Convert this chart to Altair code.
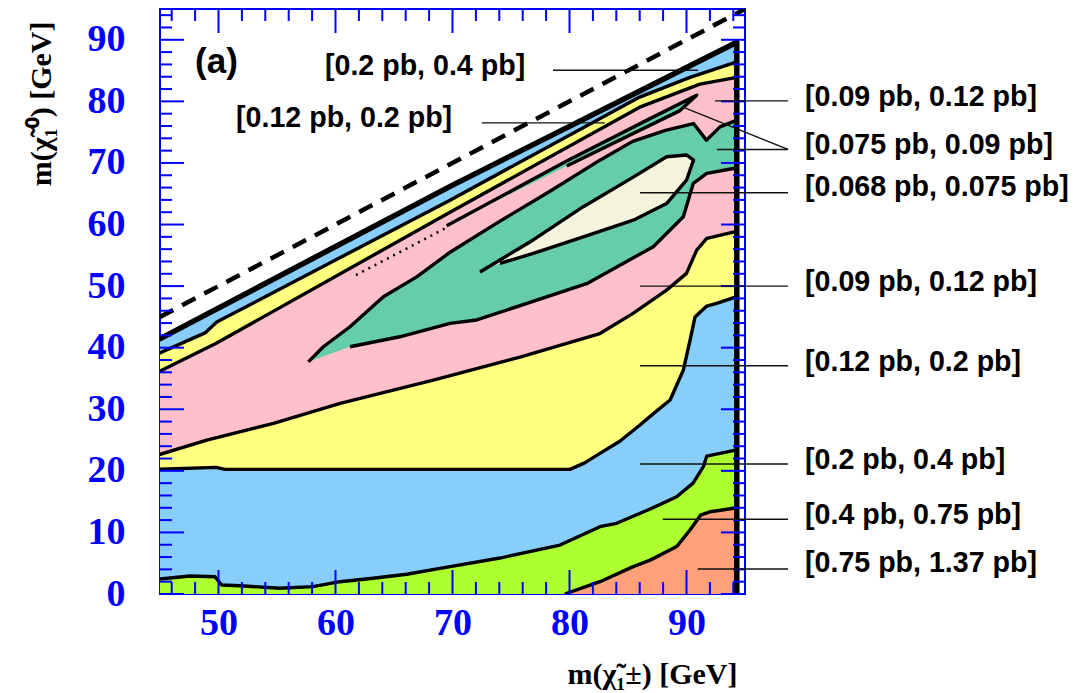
import altair as alt
import pandas as pd

# ---------------- contour boundaries (GeV) ----------------
# kinematic limit (thick black line) and right edge of the scanned region
top_x = [44.7, 69.8, 94.3]
top_y = [41.15, 66.2, 89.6]
edge_x = 94.3
# m(chi0) = m(chi+-) dashed line
diag_x = [45, 95]
diag_y = [45, 95]

# green / blue boundary (0.4 pb)
gb_x = [44.7, 47.56, 49.7, 50.27, 51.84, 55.26, 58.08, 60.38, 63.2, 66.09, 68.93,
        74.06, 79.19, 82.6, 84.03, 86.9, 89.16, 90.56, 91.44, 91.73, 94.3]
gb_y = [2.39, 2.92, 2.81, 1.46, 1.35, 0.93, 1.19, 2.0, 2.55, 3.2, 4.17,
        5.84, 7.95, 10.93, 11.48, 13.8, 15.8, 18.0, 20.67, 22.4, 23.4]

# salmon boundary (0.75 pb)
sal_x = [79.6, 82.6, 85.4, 86.9, 89.16, 90.3, 91.2, 92.05, 94.3]
sal_y = [0.0, 2.0, 4.4, 5.5, 7.7, 10.4, 12.8, 13.36, 14.0]

# blue / yellow boundary, lower (0.2 pb)
by_x = [44.7, 49.79, 50.56, 80.04, 81.3, 82.6, 84.3, 86.0, 87.3, 88.6, 89.73,
        90.3, 90.73, 91.73, 92.58, 94.3]
by_y = [20.24, 20.57, 20.24, 20.24, 21.3, 22.84, 24.8, 27.4, 29.5, 31.5, 36.36,
        41.2, 45.0, 46.75, 47.2, 48.3]

# yellow / pink boundary, lower (0.12 pb)
yp_x = [44.7, 49.0, 54.7, 60.4, 68.36, 75.77, 82.6, 85.43, 88.3, 90.0, 90.87,
        91.73, 94.0, 94.3]
yp_y = [22.5, 25.0, 27.7, 30.96, 34.74, 38.47, 42.3, 45.57, 49.35, 52.06, 55.84,
        57.74, 58.77, 58.8]

# upper bands near the kinematic limit
uby_x = [44.7, 48.85, 49.85, 69.79, 86.0, 90.3, 94.3]
uby_y = [38.9, 42.4, 44.16, 63.96, 80.7, 83.9, 86.4]
uyp_x = [44.7, 49.85, 69.79, 86.0, 91.15, 94.3]
uyp_y = [35.9, 40.75, 62.0, 79.06, 82.8, 83.9]

# teal tongue (0.09 pb)
tg_x = [57.68, 58.96, 61.24, 64.09, 66.94, 69.79, 74.06, 78.33, 82.6, 85.4, 88.2,
        90.6, 91.7, 92.86, 94.3, 94.3, 94.0, 91.73, 90.58, 89.73, 87.16, 81.47,
        72.07, 69.79, 65.5, 61.24]
tg_y = [37.7, 40.15, 43.4, 48.26, 51.5, 55.5, 60.55, 65.4, 70.45, 73.5, 75.3,
        76.4, 73.7, 75.86, 76.95, 69.1, 69.1, 68.3, 66.7, 61.25, 56.4, 50.4,
        44.5, 43.94, 41.77, 40.15]

# thin teal sliver and its dotted tail
sl_x = [69.5, 79.76, 86.88, 90.87, 89.44, 79.76]
sl_y = [59.8, 70.3, 77.2, 81.0, 78.5, 69.5]
dot_x = [61.75, 69.5]
dot_y = [51.8, 59.5]

# cream core (0.075 pb)
cr_x = [72.35, 76.9, 81.18, 85.45, 88.3, 90.0, 90.6, 90.0, 88.3, 85.45, 81.18, 76.9, 74.06]
cr_y = [52.3, 57.5, 62.9, 67.7, 71.0, 71.3, 70.45, 67.2, 63.4, 60.7, 58.0, 55.3, 53.7]

# ---------------- annotations ----------------
lab_text = ["[0.09 pb, 0.12 pb]", "[0.075 pb, 0.09 pb]", "[0.068 pb, 0.075 pb]",
            "[0.09 pb, 0.12 pb]", "[0.12 pb, 0.2 pb]", "[0.2 pb, 0.4 pb]",
            "[0.4 pb, 0.75 pb]", "[0.75 pb, 1.37 pb]"]
lab_y = [80.76, 72.89, 66.12, 50.70, 37.71, 21.75, 12.82, 4.98]
lab_x = 100.13
in_text = ["[0.2 pb, 0.4 pb]", "[0.12 pb, 0.2 pb]"]
in_x = [59.1, 51.5]
in_y = [85.71, 77.35]
panel_text = "(a)"
panel_x, panel_y = 48.0, 86.4

lead_x = [92.44, 89.7, 92.6, 86.03, 86.03, 86.03, 86.03, 87.97, 90.96, 78.59, 72.5]
lead_y = [80.08, 79.06, 72.19, 65.15, 50.0, 37.06, 21.1, 12.13, 4.06, 85.06, 76.5]
lead_x2 = [98.68, 98.68, 98.68, 98.68, 98.68, 98.68, 98.68, 98.68, 98.68, 90.98, 83.03]
lead_y2 = [80.08, 72.19, 72.19, 65.15, 50.0, 37.06, 21.1, 12.13, 4.06, 85.06, 76.5]

x_major = [50, 60, 70, 80, 90]
x_minor = [v for v in range(46, 95, 2) if v % 10]
y_major = [0, 10, 20, 30, 40, 50, 60, 70, 80, 90]
y_minor = [v for v in range(2, 95, 2) if v % 10]

# ---------------- chart ----------------
W, H = 585, 585
BLUE = "#0000ff"
LW = 3.4
xs = alt.Scale(domain=[45, 95], nice=False, zero=False)
ys = alt.Scale(domain=[0, 95], nice=False, zero=False)
xaxis = alt.Axis(values=x_major, ticks=False, tickSize=0, domain=False, grid=False,
                 labelFont="Liberation Serif", labelFontWeight="bold", labelFontSize=38,
                 labelColor=BLUE, labelPadding=10,
                 title="m(χ̃₁±) [GeV]", titleFont="Liberation Serif", titleFontWeight="bold",
                 titleFontSize=30, titleColor="black", titleAlign="right",
                 titleBaseline="alphabetic", titleX=577, titleY=89, titleAngle=0)
yaxis = alt.Axis(values=y_major, ticks=False, tickSize=0, domain=False, grid=False,
                 labelFont="Liberation Serif", labelFontWeight="bold", labelFontSize=38,
                 labelColor=BLUE, labelPadding=35,
                 title="m(χ̃₁⁰) [GeV]", titleFont="Liberation Serif", titleFontWeight="bold",
                 titleFontSize=30, titleColor="black", titleAlign="right",
                 titleBaseline="alphabetic", titleX=-110, titleY=12, titleAngle=-90)

X = alt.X("x:Q", scale=xs, axis=xaxis)
Y = alt.Y("y:Q", scale=ys, axis=yaxis)


def poly(xv, yv):
    return pd.DataFrame({"x": xv, "y": yv, "i": list(range(len(xv)))})


def region(df, color):
    return alt.Chart(df).mark_line(fill=color, stroke="black", strokeWidth=LW,
                                   strokeJoin="round", clip=True).encode(
        x=X, y=Y, order=alt.Order("i:Q"))


allowed = poly([44.7, edge_x, edge_x] + top_x[::-1][1:],
               [-1, -1] + top_y[::-1])
salmon = poly(sal_x + [edge_x, sal_x[0]], sal_y + [-1, -1])
blue = poly(gb_x + top_x[::-1], gb_y + top_y[::-1])
yellow = poly(by_x + uby_x[::-1], by_y + uby_y[::-1])
pink = poly(yp_x + uyp_x[::-1], yp_y + uyp_y[::-1])
teal = poly(tg_x, tg_y)
sliver = poly(sl_x, sl_y)
cream = poly(cr_x, cr_y)

layers = [
    region(allowed, "#adff2f"),
    region(salmon, "#ffa07a"),
    region(blue, "#87cefa"),
    region(yellow, "#ffff80"),
    region(pink, "#ffc0cb"),
    region(teal, "#66cdaa"),
    region(sliver, "#66cdaa"),
    region(cream, "#f4f4dc"),
]

dots = poly(dot_x, dot_y)
layers.append(alt.Chart(dots).mark_line(color="black", strokeWidth=2.5, strokeDash=[2, 5],
                                        clip=True).encode(x=X, y=Y, order=alt.Order("i:Q")))

border = poly(top_x + [edge_x], top_y + [-1])
layers.append(alt.Chart(border).mark_line(color="black", strokeWidth=5.5, clip=True,
                                          strokeJoin="round").encode(
    x=X, y=Y, order=alt.Order("i:Q")))
diag = poly(diag_x, diag_y)
layers.append(alt.Chart(diag).mark_line(color="black", strokeWidth=4.5,
                                        strokeDash=[15, 10], clip=True).encode(
    x=X, y=Y, order=alt.Order("i:Q")))


# inward ticks on all four sides
def xticks(vals, length):
    df = pd.DataFrame({"x": vals})
    bot = alt.Chart(df).mark_rule(color=BLUE, strokeWidth=2).encode(
        x=X, y=alt.value(H), y2=alt.value(H - length))
    top = alt.Chart(df).mark_rule(color=BLUE, strokeWidth=2).encode(
        x=X, y=alt.value(0), y2=alt.value(length))
    return [bot, top]


def yticks(vals, length):
    df = pd.DataFrame({"y": vals})
    left = alt.Chart(df).mark_rule(color=BLUE, strokeWidth=2).encode(
        y=Y, x=alt.value(0), x2=alt.value(length))
    right = alt.Chart(df).mark_rule(color=BLUE, strokeWidth=2).encode(
        y=Y, x=alt.value(W), x2=alt.value(W - length))
    return [left, right]


layers += xticks(x_major, 24) + xticks(x_minor, 12) + yticks(y_major, 24) + yticks(y_minor, 12)

leads = pd.DataFrame({"x": lead_x, "y": lead_y, "x2": lead_x2, "y2": lead_y2})
layers.append(alt.Chart(leads).mark_rule(color="#111111", strokeWidth=1.4).encode(
    x=X, y=Y, x2="x2:Q", y2="y2:Q"))

labs = pd.DataFrame({"x": [lab_x] * len(lab_text), "y": lab_y, "t": lab_text})
layers.append(alt.Chart(labs).mark_text(align="left", baseline="middle", font="Liberation Sans",
                                        fontWeight="bold", fontSize=28.6, color="black").encode(
    x=X, y=Y, text="t:N"))
ins = pd.DataFrame({"x": in_x, "y": in_y, "t": in_text})
layers.append(alt.Chart(ins).mark_text(align="left", baseline="middle", font="Liberation Sans",
                                       fontWeight="bold", fontSize=28.6, color="black").encode(
    x=X, y=Y, text="t:N"))
pan = pd.DataFrame({"x": [panel_x], "y": [panel_y], "t": [panel_text]})
layers.append(alt.Chart(pan).mark_text(align="left", baseline="middle", font="Liberation Sans",
                                       fontWeight="bold", fontSize=35, color="black").encode(
    x=X, y=Y, text="t:N"))

chart = alt.layer(*layers).properties(
    width=W, height=H,
    autosize=alt.AutoSizeParams(type="none"),
    padding={"left": 152, "top": 1, "right": 325, "bottom": 98},
    background="white",
).configure_view(stroke=BLUE, strokeWidth=2)

chart.save("out.html", embed_options={"renderer": "svg", "actions": False})
